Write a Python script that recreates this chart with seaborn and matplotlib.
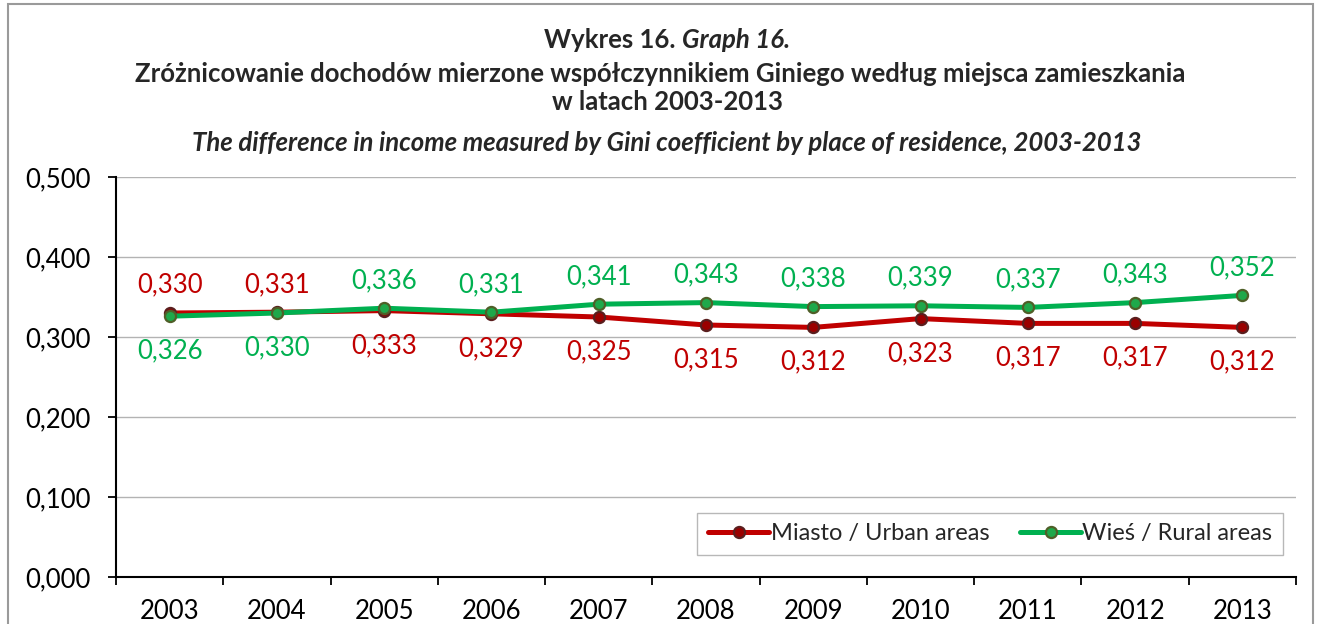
import matplotlib
matplotlib.use("Agg")
import matplotlib.pyplot as plt
import seaborn as sns
import pandas as pd
import numpy as np
from matplotlib.patches import Rectangle
from matplotlib.ticker import FixedLocator, FuncFormatter
from matplotlib.lines import Line2D

years = ["2003", "2004", "2005", "2006", "2007", "2008", "2009", "2010", "2011", "2012", "2013"]
urban = [0.330, 0.331, 0.333, 0.329, 0.325, 0.315, 0.312, 0.323, 0.317, 0.317, 0.312]
rural = [0.326, 0.330, 0.336, 0.331, 0.341, 0.343, 0.338, 0.339, 0.337, 0.343, 0.352]
yticks = [0.0, 0.1, 0.2, 0.3, 0.4, 0.5]

urban_label = "Miasto / Urban areas"
rural_label = "Wieś / Rural areas"

sns.set_theme(style="white")
plt.rcParams['font.family'] = ['Lato', 'DejaVu Sans']

RED = "#C00000"
GREEN = "#00B050"
LFS = 18.5  # labels font size

fig = plt.figure(figsize=(13.21, 6.24), dpi=100)
ax = fig.add_axes([116/1321, 1-577/624, (1296-116)/1321, 400/624])

x = np.arange(len(years))
df = pd.DataFrame({"x": np.concatenate([x, x]),
                   "y": urban + rural,
                   "s": [urban_label]*len(x) + [rural_label]*len(x)})

sns.lineplot(data=df, x="x", y="y", hue="s", palette={urban_label: RED, rural_label: GREEN},
             ax=ax, linewidth=3.6, marker="o", markersize=8, legend=False, zorder=3)
lines = ax.get_lines()
lines[0].set_markerfacecolor("#9B0000"); lines[0].set_markeredgecolor("#5A1E1E"); lines[0].set_markeredgewidth(1.6)
lines[1].set_markerfacecolor("#1FA84A"); lines[1].set_markeredgecolor("#4F5F28"); lines[1].set_markeredgewidth(1.6)

ax.set_xlim(-0.5, len(years)-0.5)
ax.set_ylim(0, 0.5)
ax.set_xlabel("")
ax.set_ylabel("")
ax.set_yticks(yticks)
ax.yaxis.set_major_formatter(FuncFormatter(lambda v, p: f"{v:.3f}".replace(".", ",")))
ax.set_xticks(x)
ax.set_xticklabels(years)
ax.xaxis.set_minor_locator(FixedLocator(np.arange(-0.5, len(years), 1.0)))
ax.tick_params(axis="x", which="major", length=0, pad=16, labelsize=LFS, colors="black")
ax.tick_params(axis="x", which="minor", length=6, width=1.3, direction="out", bottom=True, color="black")
ax.tick_params(axis="y", which="major", length=6, width=1.3, direction="out", left=True, labelsize=LFS, pad=12, color="black")
for lab in ax.get_xticklabels() + ax.get_yticklabels():
    lab.set_color("black")

ax.grid(axis="y", color="#B3B3B3", linewidth=1.0, zorder=0)
ax.grid(axis="x", visible=False)
for s in ["top", "right"]:
    ax.spines[s].set_visible(False)
for s in ["left", "bottom"]:
    ax.spines[s].set_color("black")
    ax.spines[s].set_linewidth(1.5)

for i in range(len(years)):
    u, r = urban[i], rural[i]
    u_up = u > r
    ax.annotate(f"{u:.3f}".replace(".", ","), (i, u), xytext=(0, 20 if u_up else -25),
                textcoords="offset points", ha="center", va="center", color=RED, fontsize=LFS)
    ax.annotate(f"{r:.3f}".replace(".", ","), (i, r), xytext=(0, 20 if not u_up else -25),
                textcoords="offset points", ha="center", va="center", color=GREEN, fontsize=LFS)

h1 = Line2D([], [], color=RED, lw=3.6, marker="o", markersize=8, markerfacecolor="#9B0000",
            markeredgecolor="#5A1E1E", markeredgewidth=1.6)
h2 = Line2D([], [], color=GREEN, lw=3.6, marker="o", markersize=8, markerfacecolor="#1FA84A",
            markeredgecolor="#4F5F28", markeredgewidth=1.6)
leg = ax.legend([h1, h2], [urban_label, rural_label], ncol=2, loc="lower right",
                bbox_to_anchor=(0.989, 0.055), borderaxespad=0, fancybox=False,
                frameon=True, edgecolor="#A6A6A6", fontsize=17, handlelength=2.6,
                handletextpad=0.05, columnspacing=1.3, borderpad=0.45)
leg.get_frame().set_linewidth(1.0)

fs = 18.5
fig.text(676/1321, 1-40/624, "Wykres 16.", ha="right", va="center", fontsize=fs, fontweight="bold")
fig.text(682/1321, 1-40/624, "Graph 16.", ha="left", va="center", fontsize=fs, fontweight="bold", fontstyle="italic")
fig.text(0.5, 1-74/624, "Zróżnicowanie dochodów mierzone współczynnikiem Giniego według miejsca zamieszkania",
         ha="center", va="center", fontsize=fs, fontweight="bold")
fig.text(0.505, 1-102/624, "w latach 2003-2013", ha="center", va="center", fontsize=fs, fontweight="bold")
fig.text(0.505, 1-143/624, "The difference in income measured by Gini coefficient by place of residence, 2003-2013",
         ha="center", va="center", fontsize=fs, fontweight="bold", fontstyle="italic")

fig.patches.append(Rectangle((8/1321, -0.05), (1313-8)/1321, 1-4/624+0.05, transform=fig.transFigure,
                             fill=False, edgecolor="#9A9A9A", linewidth=1.5))

fig.savefig("out.png", dpi=100)
